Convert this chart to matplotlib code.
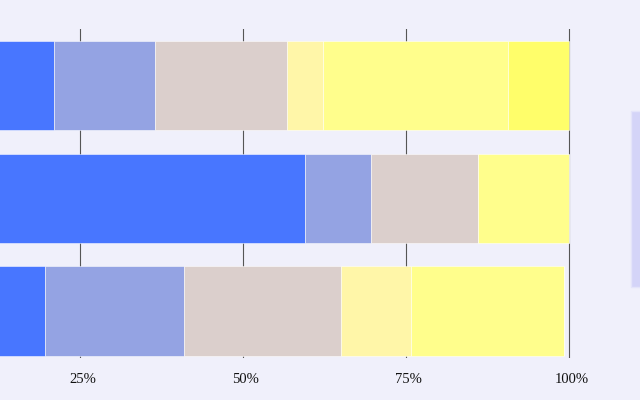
import matplotlib
matplotlib.use("Agg")
import matplotlib.pyplot as plt
from matplotlib.patches import Rectangle
from matplotlib.ticker import FuncFormatter
from matplotlib.transforms import ScaledTranslation

categories = ["Row 1", "Row 2", "Row 3"]
series_names = ["S1", "S2", "S3", "S4", "S5", "S6"]
s1 = [21.1, 59.6, 19.7]
s2 = [15.5, 10.1, 21.3]
s3 = [20.2, 16.4, 24.1]
s4 = [5.6, 0.0, 10.7]
s5 = [28.3, 13.9, 23.5]
s6 = [9.3, 0.0, 0.0]
series = [s1, s2, s3, s4, s5, s6]
colors = ["#4876FF", "#94A3E3", "#DBCFCC", "#FFF6A8", "#FFFE8C", "#FFFE6A"]
xticks = [25, 50, 75, 100]

bg = "#F0F0FB"
fig = plt.figure(figsize=(6.4, 4.0), dpi=100, facecolor=bg)
W, H = 640, 400
ax = fig.add_axes([0 / W, 1 - 358 / H, 600 / W, (358 - 29) / H])
ax.set_facecolor(bg)

ypos = list(range(len(categories)))
left = [0.0] * len(categories)
for vals, col, name in zip(series, colors, series_names):
    ax.barh(ypos, vals, left=left, height=0.79, color=col,
            edgecolor=(1, 1, 1, 0.6), linewidth=0.6, label=name, zorder=2)
    left = [l + v for l, v in zip(left, vals)]

ax.set_xlim(12.8, 104.8)
ax.set_ylim(2.417, -0.501)
ax.set_xticks(xticks)
ax.xaxis.set_major_formatter(FuncFormatter(lambda v, p: f"{v:.0f}%"))
ax.set_yticks(ypos)
ax.set_yticklabels(categories)
ax.tick_params(axis="y", left=False, labelleft=False)
ax.tick_params(axis="x", length=0, pad=11, labelsize=10.5, colors="#111111")
shift = ScaledTranslation(3 / 100, 0, fig.dpi_scale_trans)
for lab in ax.get_xticklabels():
    lab.set_fontfamily(["Liberation Serif", "DejaVu Serif"])
    lab.set_transform(lab.get_transform() + shift)
ax.grid(axis="x", color="#555555", linewidth=0.8, zorder=0)
ax.set_axisbelow(True)
for s in ax.spines.values():
    s.set_visible(False)

fig.patches.append(Rectangle((631 / W, 1 - 287 / H), 20 / W, 176 / H,
                             transform=fig.transFigure, facecolor="#D4D4F8",
                             edgecolor="#E4E4FA", linewidth=1.0))

fig.savefig("out.png", dpi=100, facecolor=bg)
